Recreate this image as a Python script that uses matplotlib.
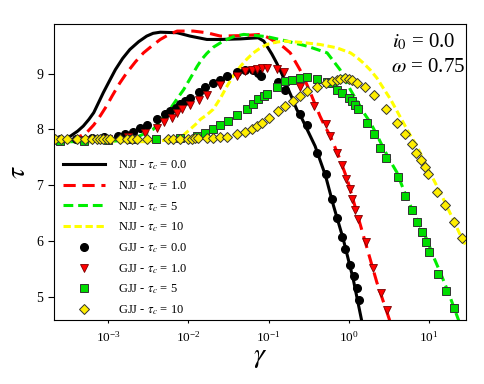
import numpy as np
import matplotlib
matplotlib.use("Agg")
import matplotlib.pyplot as plt

plt.rcParams['font.family'] = ['Liberation Serif', 'DejaVu Serif']
plt.rcParams['mathtext.fontset'] = 'stix'

# NJJ curves (lines): log10(gamma), tau
njj0_lg = [-3.70, -3.55, -3.47, -3.38, -3.31, -3.24, -3.18, -3.12, -3.06, -2.98, -2.91, -2.82, -2.73,
           -2.62, -2.52, -2.44, -2.35, -2.14, -1.98, -1.77, -1.60, -1.35, -1.13, -1.06, -1.02,
           -0.96, -0.90, -0.83, -0.77, -0.71, -0.65, -0.58, -0.52, -0.47, -0.42, -0.29, -0.19,
           -0.07, 0.055, 0.16]
njj0_t = [7.78, 7.82, 7.88, 7.97, 8.06, 8.18, 8.30, 8.48, 8.66, 8.88, 9.07, 9.27, 9.43,
          9.57, 9.67, 9.72, 9.74, 9.73, 9.67, 9.61, 9.61, 9.62, 9.64, 9.58, 9.49,
          9.35, 9.19, 8.98, 8.77, 8.57, 8.36, 8.18, 8.00, 7.85, 7.70, 7.17, 6.63,
          6.04, 5.32, 4.58]

njj1_lg = [-3.70, -3.45, -3.27, -3.18, -3.10, -3.02, -2.95, -2.86, -2.77, -2.66, -2.56, -2.45, -2.35,
           -2.24, -2.14, -1.94, -1.77, -1.60, -1.32, -1.10, -1.00, -0.90, -0.81, -0.73, -0.67,
           -0.61, -0.54, -0.48, -0.42, -0.36, -0.30, -0.23, -0.12, -0.02, 0.10, 0.23, 0.35, 0.51]
njj1_t = [7.78, 7.80, 7.94, 8.08, 8.24, 8.42, 8.60, 8.82, 9.01, 9.21, 9.37, 9.50, 9.61,
          9.70, 9.76, 9.76, 9.73, 9.67, 9.68, 9.70, 9.64, 9.55, 9.47, 9.37, 9.22,
          9.07, 8.86, 8.66, 8.45, 8.24, 8.06, 7.88, 7.50, 7.11, 6.51, 5.86, 5.26, 4.58]

njj5_lg = [-3.70, -3.00, -2.70, -2.44, -2.33, -2.23, -2.14, -2.06, -1.97, -1.89, -1.83, -1.77, -1.69,
           -1.60, -1.52, -1.42, -1.31, -1.02, -0.77, -0.52, -0.27, -0.11, 0.02, 0.08, 0.14,
           0.20, 0.27, 0.35, 0.43, 0.51, 0.60, 0.68, 0.77, 0.87, 0.97, 1.05, 1.14, 1.25, 1.37]
njj5_t = [7.78, 7.78, 7.82, 8.00, 8.18, 8.36, 8.55, 8.71, 8.93, 9.13, 9.26, 9.36, 9.47,
          9.55, 9.61, 9.67, 9.70, 9.66, 9.58, 9.49, 9.37, 9.07, 8.71, 8.56, 8.42,
          8.27, 8.12, 7.90, 7.67, 7.45, 7.23, 6.93, 6.63, 6.33, 6.04, 5.74, 5.44, 5.05, 4.58]

njj10_lg = [-3.70, -2.50, -2.15, -2.06, -1.98, -1.91, -1.85, -1.77, -1.69, -1.60, -1.52, -1.44, -1.35,
            -1.27, -1.19, -1.10, -1.02, -0.91, -0.81, -0.61, -0.36, -0.15, 0.02, 0.10, 0.18,
            0.27, 0.35, 0.43, 0.52, 0.60, 0.68, 0.76, 0.85, 0.91, 0.97, 1.05, 1.14, 1.22, 1.30,
            1.38, 1.47]
njj10_t = [7.78, 7.78, 7.82, 7.90, 8.00, 8.09, 8.18, 8.26, 8.36, 8.56, 8.77, 8.96, 9.13,
           9.26, 9.37, 9.46, 9.52, 9.56, 9.58, 9.56, 9.52, 9.46, 9.37, 9.29, 9.19,
           9.06, 8.92, 8.74, 8.54, 8.33, 8.12, 7.91, 7.70, 7.52, 7.34, 7.12, 6.87, 6.63, 6.39,
           6.14, 5.89]

# GJJ results (markers): log10(gamma), tau
gjj0_lg = [-3.60, -3.40, -3.20, -3.05, -2.875, -2.79, -2.69, -2.60, -2.52, -2.39, -2.29, -2.23, -2.16,
           -2.10, -2.04, -1.98, -1.87, -1.79, -1.69, -1.60, -1.52, -1.40, -1.29, -1.19, -1.13,
           -1.10, -0.88, -0.79, -0.61, -0.52, -0.40, -0.29, -0.21, -0.15, -0.09, -0.045, 0.01,
           0.06, 0.10, 0.13]
gjj0_t = [7.82, 7.83, 7.84, 7.86, 7.89, 7.91, 7.95, 8.03, 8.07, 8.18, 8.27, 8.33, 8.39,
          8.46, 8.51, 8.56, 8.67, 8.76, 8.83, 8.89, 8.95, 9.02, 9.06, 9.07, 9.01,
          8.95, 8.84, 8.71, 8.27, 8.07, 7.58, 7.20, 6.75, 6.42, 6.07, 5.86, 5.57,
          5.38, 5.16, 4.95]

gjj1_lg = [-3.60, -3.30, -3.00, -2.75, -2.54, -2.39, -2.31, -2.21, -2.14, -2.08, -1.98, -1.87, -1.77,
           -1.60, -1.40, -1.29, -1.21, -1.15, -1.08, -1.02, -0.90, -0.81, -0.61, -0.44, -0.29,
           -0.23, -0.15, -0.09, -0.03, 0.01, 0.04, 0.08, 0.12, 0.22, 0.30, 0.40, 0.48]
gjj1_t = [7.80, 7.81, 7.83, 7.87, 7.93, 8.03, 8.13, 8.21, 8.30, 8.36, 8.43, 8.52, 8.62,
          8.79, 8.96, 9.04, 9.07, 9.08, 9.09, 9.09, 9.08, 9.02, 8.76, 8.41, 8.09,
          7.88, 7.58, 7.36, 7.11, 6.93, 6.75, 6.56, 6.39, 5.98, 5.51, 5.08, 4.77]

gjj5_lg = [-3.60, -3.30, -3.00, -2.70, -2.40, -2.10, -1.89, -1.79, -1.69, -1.60, -1.50, -1.40, -1.27,
           -1.19, -1.13, -1.06, -1.02, -0.90, -0.79, -0.71, -0.61, -0.52, -0.40, -0.27, -0.21,
           -0.15, -0.09, 0.00, 0.04, 0.08, 0.12, 0.23, 0.31, 0.39, 0.47, 0.61, 0.70, 0.79,
           0.85, 0.91, 0.96, 1.00, 1.11, 1.21, 1.31]
gjj5_t = [7.80, 7.80, 7.81, 7.82, 7.83, 7.85, 7.89, 7.94, 8.00, 8.07, 8.15, 8.25, 8.36,
          8.45, 8.54, 8.60, 8.64, 8.76, 8.86, 8.89, 8.92, 8.94, 8.90, 8.84, 8.83,
          8.71, 8.66, 8.57, 8.51, 8.43, 8.36, 8.11, 7.91, 7.67, 7.48, 7.14, 6.81, 6.56,
          6.34, 6.17, 5.98, 5.81, 5.41, 5.11, 4.80]

gjj10_lg = [-3.66, -3.59, -3.51, -3.39, -3.29, -3.20, -3.14, -3.10, -3.06, -3.01, -2.975, -2.85,
            -2.76, -2.70, -2.64, -2.51, -2.26, -2.19, -2.10, -2.01, -1.95, -1.92, -1.88, -1.77,
            -1.69, -1.60, -1.52, -1.40, -1.29, -1.21, -1.15, -1.08, -1.00, -0.88, -0.79, -0.69,
            -0.61, -0.52, -0.40, -0.29, -0.21, -0.15, -0.11, -0.045, 0.00, 0.04, 0.10, 0.20,
            0.31, 0.47, 0.60, 0.70, 0.79, 0.84, 0.90, 0.95, 0.99, 1.10, 1.20, 1.31, 1.41]
gjj10_t = [7.83, 7.83, 7.83, 7.83, 7.83, 7.83, 7.83, 7.83, 7.83, 7.83, 7.83, 7.83,
           7.83, 7.83, 7.83, 7.83, 7.83, 7.83, 7.83, 7.83, 7.83, 7.84, 7.84, 7.84,
           7.85, 7.86, 7.87, 7.91, 7.95, 8.00, 8.06, 8.11, 8.21, 8.33, 8.42, 8.51,
           8.60, 8.68, 8.76, 8.83, 8.86, 8.89, 8.91, 8.92, 8.91, 8.89, 8.83, 8.76,
           8.62, 8.36, 8.12, 7.91, 7.73, 7.58, 7.46, 7.32, 7.21, 6.88, 6.65, 6.34, 6.05]

fig = plt.figure(figsize=(4.85, 3.84), dpi=100)
ax = fig.add_axes([0.111, 0.167, 0.850, 0.771])

ax.plot(10 ** np.array(njj0_lg), njj0_t, color='black', lw=2.2, ls='-', label=r'NJJ - $\tau_c$ = 0.0')
ax.plot(10 ** np.array(njj1_lg), njj1_t, color='red', lw=2.2, dashes=(4, 2.2), label=r'NJJ - $\tau_c$ = 1.0')
ax.plot(10 ** np.array(njj5_lg), njj5_t, color='#00ee00', lw=2.2, dashes=(3.2, 1.6), label=r'NJJ - $\tau_c$ = 5')
ax.plot(10 ** np.array(njj10_lg), njj10_t, color='#ffff00', lw=2.2, dashes=(2.4, 1.2), label=r'NJJ - $\tau_c$ = 10')

ax.plot(10 ** np.array(gjj0_lg), gjj0_t, ls='none', marker='o', ms=5.5, mfc='black', mec='black',
        label=r'GJJ - $\tau_c$ = 0.0')
ax.plot(10 ** np.array(gjj1_lg), gjj1_t, ls='none', marker='v', ms=5.5, mfc='red', mec='#7a0000',
        mew=0.6, label=r'GJJ - $\tau_c$ = 1.0')
ax.plot(10 ** np.array(gjj5_lg), gjj5_t, ls='none', marker='s', ms=5.7, mfc='#00dd00', mec='#333333',
        mew=0.7, label=r'GJJ - $\tau_c$ = 5')
ax.plot(10 ** np.array(gjj10_lg), gjj10_t, ls='none', marker='D', ms=4.9, mfc='#ffee00', mec='#333333',
        mew=0.7, label=r'GJJ - $\tau_c$ = 10')

ax.set_xscale('log')
ax.set_xlim(2.1e-4, 29)
ax.set_ylim(4.59, 9.89)
ax.set_yticks([5, 6, 7, 8, 9])
ax.set_xticks([1e-3, 1e-2, 1e-1, 1e0, 1e1])
ax.minorticks_off()
ax.tick_params(axis='y', direction='out', length=4, width=0.8, labelsize=10)
ax.tick_params(axis='x', direction='out', length=2.5, width=0.8, labelsize=9.5, pad=5)

ax.set_xlabel(r'$\gamma$', fontsize=20, labelpad=0)
ax.set_ylabel(r'$\tau$', fontsize=20, labelpad=4)

ax.text(0.975, 0.975, r'$i_0$ = 0.0', transform=ax.transAxes, ha='right', va='top', fontsize=15)
ax.text(0.997, 0.885, r'$\omega$ = 0.75', transform=ax.transAxes, ha='right', va='top', fontsize=15)

ax.legend(loc='lower left', bbox_to_anchor=(0.0, -0.02), frameon=False, fontsize=9,
          handlelength=3.4, labelspacing=0.55, handletextpad=1.0, borderaxespad=0.3)

fig.savefig('out.png', dpi=100)
